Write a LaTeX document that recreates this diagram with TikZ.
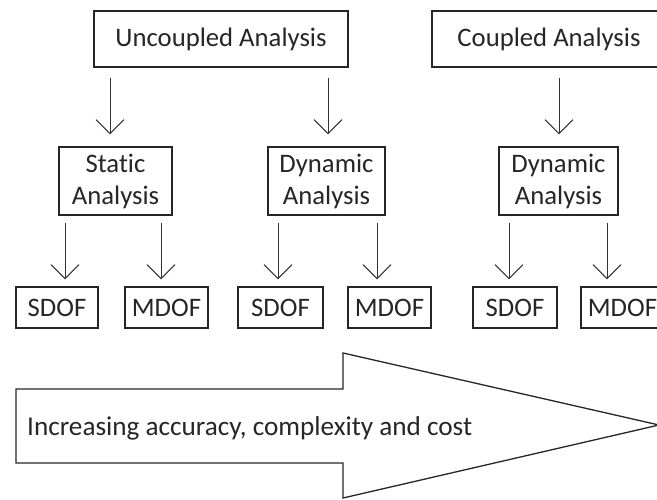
\documentclass[tikz,border=0pt]{standalone}
\usepackage{fontspec}
\setmainfont{Carlito}[Ligatures={NoCommon}]
\usetikzlibrary{arrows.meta}
\begin{document}
\begin{tikzpicture}[x=1pt,y=-1pt,
  box/.style={draw=black!85, line width=1.3pt, text=black!85, inner sep=0pt, align=center,
    font=\fontsize{26.7}{32}\selectfont},
  arr/.style={draw=black!80, line width=1pt, -{Straight Barb[length=14pt,width=28pt,line width=1pt]}},
  bigarrow/.style={draw=black!85, line width=1.3pt, fill=white}
]
\useasboundingbox (0,0) rectangle (657,500);
\clip (0,0) rectangle (657,500);
\fill[white] (0,0) rectangle (657,500);
% top boxes
\node[box, minimum width=254pt, minimum height=56pt] (unc) at (221,39) {Uncoupled Analysis};
\node[box, minimum width=234pt, minimum height=56pt] (cpl) at (549,39) {Coupled Analysis};
% middle boxes
\node[box, minimum width=113pt, minimum height=68pt] (sta) at (115.5,181) {Static\\Analysis};
\node[box, minimum width=117pt, minimum height=68pt] (dyn1) at (326.5,181) {Dynamic\\Analysis};
\node[box, minimum width=119pt, minimum height=68pt] (dyn2) at (558.5,181) {Dynamic\\Analysis};
% bottom boxes
\node[box, minimum width=82pt, minimum height=41pt] (s1) at (57,307.5) {SDOF};
\node[box, minimum width=83pt, minimum height=41pt] (m1) at (166.5,307.5) {MDOF};
\node[box, minimum width=85pt, minimum height=41pt] (s2) at (280.5,307.5) {SDOF};
\node[box, minimum width=83pt, minimum height=41pt] (m2) at (389.5,307.5) {MDOF};
\node[box, minimum width=84pt, minimum height=41pt] (s3) at (515,307.5) {SDOF};
\node[box, minimum width=83pt, minimum height=41pt] (m3) at (622.5,307.5) {MDOF};
% arrow x positions
\coordinate (a1) at (110,0);
\coordinate (a2) at (328,0);
\coordinate (a3) at (559,0);
\coordinate (b1) at (65,0);
\coordinate (b2) at (161,0);
\coordinate (b3) at (278,0);
\coordinate (b4) at (377,0);
\coordinate (b5) at (509,0);
\coordinate (b6) at (607,0);
\draw[arr, shorten <=10pt, shorten >=12pt] (unc.south -| a1) -- (sta.north -| a1);
\draw[arr, shorten <=10pt, shorten >=12pt] (unc.south -| a2) -- (dyn1.north -| a2);
\draw[arr, shorten <=10pt, shorten >=12pt] (cpl.south -| a3) -- (dyn2.north -| a3);
\draw[arr, shorten <=7pt, shorten >=7pt] (sta.south -| b1) -- (s1.north -| b1);
\draw[arr, shorten <=7pt, shorten >=7pt] (sta.south -| b2) -- (m1.north -| b2);
\draw[arr, shorten <=7pt, shorten >=7pt] (dyn1.south -| b3) -- (s2.north -| b3);
\draw[arr, shorten <=7pt, shorten >=7pt] (dyn1.south -| b4) -- (m2.north -| b4);
\draw[arr, shorten <=7pt, shorten >=7pt] (dyn2.south -| b5) -- (s3.north -| b5);
\draw[arr, shorten <=7pt, shorten >=7pt] (dyn2.south -| b6) -- (m3.north -| b6);
% big arrow
\draw[bigarrow] (16,389) -- (343,389) -- (343,353) -- (659,425) -- (343,498) -- (343,463) -- (16,463) -- cycle;
\node[anchor=west, text=black!85, inner sep=0pt, font=\fontsize{27.2}{32}\selectfont] (lbl) at (27,428) {Increasing accuracy, complexity and cost};
\end{tikzpicture}
\end{document}
